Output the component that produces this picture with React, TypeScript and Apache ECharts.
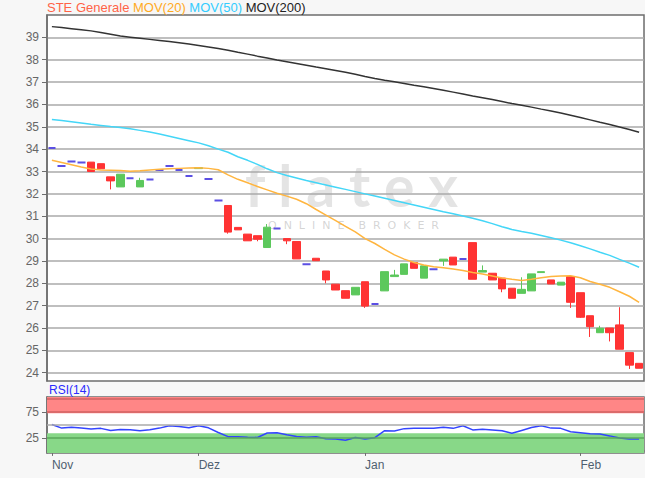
import { useEffect, useRef } from 'react';
import * as echarts from 'echarts';

// OHLC (one entry per trading day shown)
const openP = [34.05, 33.25, 33.45, 33.4, 33.42, 33.35, 32.76, 32.31, 32.7, 32.31, 32.64, 33.07, 33.25, 33.07, 32.8, 33.13, 32.66, 31.7, 31.48, 30.5, 30.2, 30.13, 29.6, 30.45, 30.0, 29.87, 28.85, 29.12, 28.55, 27.96, 27.67, 27.48, 28.07, 27.07, 27.66, 28.3, 28.4, 28.93, 28.23, 28.63, 29.0, 29.17, 29.09, 29.82, 28.5, 28.45, 28.23, 27.78, 27.55, 27.66, 28.48, 28.15, 27.92, 28.3, 27.58, 26.55, 25.79, 26.0, 26.14, 24.9, 24.42];
const closeP = [34.05, 33.25, 33.45, 33.4, 33.0, 33.12, 32.58, 32.88, 32.7, 32.6, 32.64, 33.07, 33.25, 33.07, 32.8, 33.17, 32.66, 31.7, 30.29, 30.39, 29.9, 29.97, 30.51, 30.45, 29.9, 29.09, 28.85, 29.01, 28.15, 27.7, 27.33, 27.82, 26.98, 27.07, 28.52, 28.37, 28.87, 28.67, 28.78, 28.63, 29.08, 28.82, 29.09, 28.18, 28.57, 28.15, 27.75, 27.33, 27.73, 28.42, 28.52, 27.97, 28.05, 27.15, 26.48, 26.06, 25.99, 25.79, 25.05, 24.34, 24.2];
const lowP = [34.05, 33.25, 33.45, 33.4, 33.0, 33.12, 32.2, 32.31, 32.7, 32.31, 32.64, 33.07, 33.25, 33.07, 32.8, 33.13, 32.66, 31.7, 30.22, 30.39, 29.9, 29.88, 29.6, 30.45, 29.75, 29.09, 28.85, 29.01, 28.0, 27.7, 27.33, 27.48, 26.9, 27.07, 27.66, 28.3, 28.4, 28.67, 28.23, 28.63, 28.78, 28.82, 29.09, 28.18, 28.5, 28.15, 27.6, 27.33, 27.55, 27.66, 28.48, 27.97, 27.92, 26.9, 26.45, 25.6, 25.79, 25.4, 25.05, 24.17, 24.2];
const highP = [34.05, 33.25, 33.45, 33.4, 33.42, 33.35, 32.76, 32.88, 32.7, 32.72, 32.64, 33.07, 33.25, 33.07, 32.8, 33.17, 32.66, 31.7, 31.48, 30.5, 30.2, 30.13, 30.65, 30.45, 30.0, 29.87, 28.85, 29.12, 28.55, 27.96, 27.67, 27.82, 28.07, 27.07, 28.52, 28.6, 28.87, 28.93, 28.78, 28.63, 29.08, 29.17, 29.09, 29.82, 28.8, 28.45, 28.23, 27.78, 28.27, 28.42, 28.52, 28.15, 28.05, 28.3, 27.58, 26.55, 26.1, 26.0, 26.93, 24.9, 24.42];

const ma20 = [33.5, 33.4, 33.3, 33.2, 33.11, 33.07, 33.06, 33.05, 33.01, 33.03, 33.07, 33.1, 33.12, 33.14, 33.16, 33.17, 33.14, 33.08, 32.85, 32.65, 32.5, 32.33, 32.18, 32.03, 31.9, 31.76, 31.56, 31.3, 31.05, 30.8, 30.55, 30.3, 30.0, 29.78, 29.52, 29.27, 29.08, 28.93, 28.82, 28.74, 28.69, 28.64, 28.57, 28.48, 28.42, 28.33, 28.24, 28.18, 28.13, 28.18, 28.25, 28.3, 28.33, 28.34, 28.25, 28.08, 27.96, 27.82, 27.62, 27.42, 27.15];
const ma50 = [35.33, 35.28, 35.23, 35.17, 35.11, 35.06, 35.01, 34.97, 34.91, 34.84, 34.77, 34.68, 34.58, 34.48, 34.38, 34.28, 34.15, 34.0, 33.86, 33.66, 33.5, 33.32, 33.12, 32.95, 32.82, 32.71, 32.6, 32.5, 32.4, 32.3, 32.2, 32.1, 32.0, 31.9, 31.8, 31.7, 31.6, 31.5, 31.4, 31.3, 31.2, 31.11, 31.01, 30.91, 30.8, 30.67, 30.53, 30.41, 30.32, 30.24, 30.14, 30.04, 29.93, 29.81, 29.68, 29.54, 29.39, 29.25, 29.07, 28.9, 28.72];
const ma200 = [39.48, 39.44, 39.39, 39.34, 39.29, 39.22, 39.14, 39.06, 39.01, 38.96, 38.91, 38.86, 38.81, 38.76, 38.7, 38.64, 38.57, 38.5, 38.42, 38.33, 38.25, 38.16, 38.08, 37.99, 37.91, 37.83, 37.75, 37.67, 37.6, 37.52, 37.44, 37.35, 37.25, 37.16, 37.08, 37.01, 36.94, 36.86, 36.79, 36.71, 36.63, 36.55, 36.47, 36.38, 36.3, 36.22, 36.13, 36.04, 35.96, 35.88, 35.79, 35.71, 35.62, 35.52, 35.42, 35.31, 35.2, 35.1, 34.99, 34.88, 34.76];
const rsi14 = [51, 44, 45.5, 44, 42.5, 43.5, 39.5, 41.5, 41, 39, 41, 44, 48.5, 47, 44.5, 48.5, 44.5, 35.5, 27.5, 27.5, 26.5, 26, 34.5, 35, 31, 28, 26.5, 27.5, 23.5, 23, 20.5, 26, 23, 25.5, 39, 38.5, 43, 43.5, 43.5, 43.5, 45.5, 43.5, 48.5, 40.5, 42, 40.5, 39, 34, 39.5, 45, 48.5, 44, 43.5, 37, 35, 33, 32.5, 29, 25, 23, 23];

const categories = openP.map((_, i) => 'T' + (i + 1));
const monthTickIndex = [0, 15, 32, 54];
const monthTickLabel = ['Nov', 'Dez', 'Jan', 'Feb'];
const priceTicks = [24, 25, 26, 27, 28, 29, 30, 31, 32, 33, 34, 35, 36, 37, 38, 39];
const rsiTicks = [25, 75];

export default function App() {
  const ref = useRef<HTMLDivElement>(null);
  useEffect(() => {
    const chart = echarts.init(ref.current as HTMLDivElement, null, { renderer: 'svg' });
    const doji = '#5b4fe3';
    const font = '"Liberation Sans", Arial, sans-serif';
    const candleData = openP.map((o, i) => {
      const v = [o, closeP[i], lowP[i], highP[i]];
      if (o === closeP[i]) {
        return {
          value: v,
          itemStyle: { color: doji, color0: doji, borderColor: doji, borderColor0: doji, borderColorDoji: doji, borderWidth: 2 },
        };
      }
      return v;
    });
    const isMonth = (i: number) => monthTickIndex.indexOf(i) >= 0;
    chart.setOption({
      animation: false,
      backgroundColor: '#f7f7f7',
      title: {
        text: '{a|STE Generale} {b|MOV(20)} {c|MOV(50)} {d|MOV(200)}',
        left: 47,
        top: 1,
        padding: 0,
        textStyle: {
          fontSize: 13,
          fontWeight: 'normal',
          fontFamily: font,
          rich: {
            a: { color: '#ff6347', fontSize: 13, fontFamily: font },
            b: { color: '#ffaa1e', fontSize: 13, fontFamily: font },
            c: { color: '#33ccff', fontSize: 13, fontFamily: font },
            d: { color: '#222222', fontSize: 13, fontFamily: font },
          },
        },
      },
      grid: [
        { left: 47, right: 1, top: 15, height: 366, show: true, backgroundColor: '#ffffff', borderColor: '#6e6e6e', borderWidth: 1.5 },
        { left: 47, right: 1, top: 397, height: 56, show: true, backgroundColor: '#ffffff', borderColor: '#6e6e6e', borderWidth: 1.5 },
      ],
      xAxis: [
        {
          type: 'category', gridIndex: 0, data: categories, boundaryGap: true,
          axisLine: { show: false }, axisTick: { show: false }, axisLabel: { show: false }, splitLine: { show: false },
        },
        {
          type: 'category', gridIndex: 1, data: categories, boundaryGap: true,
          axisLine: { show: true, lineStyle: { color: '#6e6e6e', width: 1.5 } },
          axisTick: { show: true, alignWithLabel: true, length: 5, interval: (i: number) => isMonth(i), lineStyle: { color: '#6e6e6e' } },
          axisLabel: {
            show: true, interval: (i: number) => isMonth(i),
            formatter: (_v: string, i: number) => (isMonth(i) ? monthTickLabel[monthTickIndex.indexOf(i)] : ''),
            align: 'left', color: '#4f5f70', fontSize: 12, fontFamily: font, margin: 6,
          },
          splitLine: { show: false },
        },
      ],
      yAxis: [
        {
          type: 'value', gridIndex: 0, min: 23.63, max: 40,
          axisLine: { show: true, lineStyle: { color: '#6e6e6e', width: 1.5 } },
          axisTick: { show: true, customValues: priceTicks, length: 5, lineStyle: { color: '#6e6e6e' } },
          axisLabel: { customValues: priceTicks, color: '#666666', fontSize: 12, fontFamily: font, margin: 8 },
          splitLine: { show: true, lineStyle: { color: '#aaaaaa', width: 1.5 } },
        },
        {
          type: 'value', gridIndex: 1, min: -4, max: 104,
          axisLine: { show: true, lineStyle: { color: '#6e6e6e', width: 1.5 } },
          axisTick: { show: true, customValues: rsiTicks, length: 5, lineStyle: { color: '#6e6e6e' } },
          axisLabel: { customValues: rsiTicks, color: '#666666', fontSize: 12, fontFamily: font, margin: 8 },
          splitLine: { show: false },
        },
      ],
      graphic: [
        {
          type: 'text', left: 245, top: 156, z: 1, silent: true,
          style: { text: 'f l a t e x', font: '700 57px Lato', fill: 'rgba(170,170,170,0.32)' },
        },
        {
          type: 'text', left: 268, top: 220, z: 1, silent: true,
          style: { text: 'O  N  L  I  N  E    B  R  O  K  E  R', font: '11px "DejaVu Sans"', fill: 'rgba(160,160,160,0.45)' },
        },
        {
          type: 'text', left: 49, top: 384, z: 5,
          style: { text: 'RSI(14)', font: '12px "Liberation Sans", Arial', fill: '#2a2aff' },
        },
      ],
      series: [
        {
          type: 'candlestick', xAxisIndex: 0, yAxisIndex: 0, data: candleData, barWidth: 8, z: 3,
          itemStyle: { color: '#5cc85c', color0: '#ff3333', borderColor: '#5cc85c', borderColor0: '#ff3333', borderColorDoji: doji, borderWidth: 1 },
        },
        { type: 'line', name: 'MOV(200)', xAxisIndex: 0, yAxisIndex: 0, data: ma200, symbol: 'none', z: 4, silent: true, lineStyle: { color: '#333333', width: 1.5 } },
        { type: 'line', name: 'MOV(50)', xAxisIndex: 0, yAxisIndex: 0, data: ma50, symbol: 'none', z: 4, silent: true, lineStyle: { color: '#44d6f7', width: 1.5 } },
        { type: 'line', name: 'MOV(20)', xAxisIndex: 0, yAxisIndex: 0, data: ma20, symbol: 'none', z: 4, silent: true, lineStyle: { color: '#ffb53f', width: 1.5 } },
        {
          type: 'line', name: 'RSI(14)', xAxisIndex: 1, yAxisIndex: 1, data: rsi14, symbol: 'none', z: 4, silent: true,
          lineStyle: { color: '#3344ff', width: 1.5 },
          markArea: {
            silent: true,
            data: [
              [{ yAxis: 72.5, itemStyle: { color: '#ff8686' } }, { yAxis: 104 }],
              [{ yAxis: -4, itemStyle: { color: '#88d888' } }, { yAxis: 34 }],
            ],
          },
          markLine: {
            silent: true, symbol: 'none', label: { show: false },
            lineStyle: { type: 'solid', width: 1.5 },
            data: [
              { yAxis: 100, lineStyle: { color: '#d06262', type: 'solid', width: 1.5 } },
              { yAxis: 75, lineStyle: { color: '#d06262', type: 'solid', width: 1.5 } },
              { yAxis: 50, lineStyle: { color: '#aaaaaa', type: 'solid', width: 1.5 } },
              { yAxis: 25, lineStyle: { color: '#5aa85a', type: 'solid', width: 1.5 } },
            ],
          },
        },
      ],
    });
    return () => chart.dispose();
  }, []);
  return <div ref={ref} style={{ position: 'fixed', left: 0, top: 0, width: 645, height: 478 }} />;
}
